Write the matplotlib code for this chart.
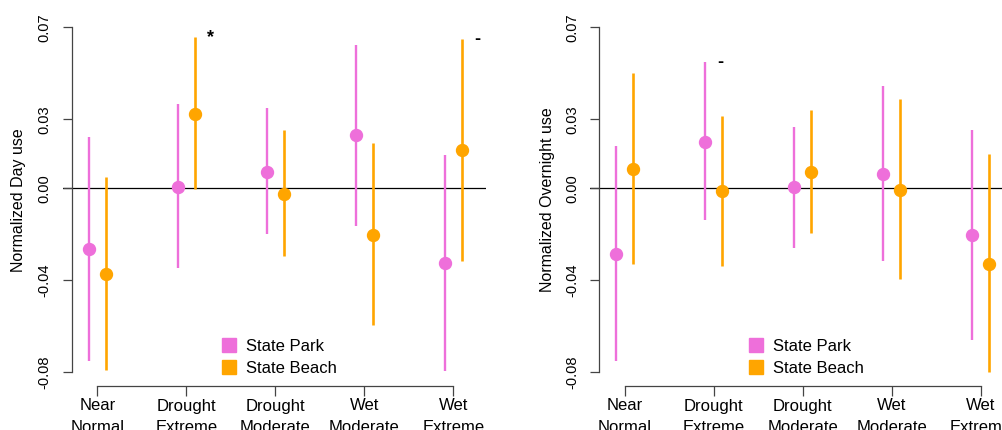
import numpy as np
import matplotlib.pyplot as plt
from matplotlib.lines import Line2D

plt.rcParams['font.family'] = ['Liberation Sans', 'DejaVu Sans']

# Categories (x axis)
categories = ["Near\nNormal", "Drought\nExtreme", "Drought\nModerate",
              "Wet\nModerate", "Wet\nExtreme"]

# Day use: estimate, lower, upper
day_park = [-0.0264, 0.0004, 0.0071, 0.0232, -0.0326]
day_park_lo = [-0.0751, -0.0345, -0.0199, -0.0162, -0.0793]
day_park_hi = [0.0224, 0.0365, 0.0350, 0.0623, 0.0146]

day_beach = [-0.0374, 0.0322, -0.0023, -0.0204, 0.0165]
day_beach_lo = [-0.0791, -0.0004, -0.0294, -0.0596, -0.0317]
day_beach_hi = [0.0050, 0.0657, 0.0255, 0.0198, 0.0648]

# Overnight use: estimate, lower, upper
night_park = [-0.0286, 0.0203, 0.0004, 0.0062, -0.0204]
night_park_lo = [-0.0751, -0.0138, -0.0261, -0.0315, -0.0660]
night_park_hi = [0.0184, 0.0548, 0.0268, 0.0443, 0.0255]

night_beach = [0.0084, -0.0012, 0.0070, -0.0006, -0.0328]
night_beach_lo = [-0.0329, -0.0338, -0.0196, -0.0394, -0.0800]
night_beach_hi = [0.0500, 0.0316, 0.0339, 0.0388, 0.0150]

# significance marks: (category index, series, symbol)
day_marks = [(1, "beach", "*"), (4, "beach", "-")]
night_marks = [(1, "park", "-")]

yticks = [-0.08, -0.04, 0.00, 0.03, 0.07]

pink = "#EE6FDA"
orange = "#FFA500"
axis_col = "#444444"

fig = plt.figure(figsize=(10.03, 4.30), dpi=100)

W, H = 1003, 430
ax_w = 423.3 / W
ax_h = 372 / H
ax_b = 1 - 386 / H

ax1 = fig.add_axes([62.7 / W, ax_b, ax_w, ax_h])
ax2 = fig.add_axes([590 / W, ax_b, ax_w, ax_h])

panels = [
    (ax1, "Normalized Day use", day_park, day_park_lo, day_park_hi,
     day_beach, day_beach_lo, day_beach_hi, day_marks, 19),
    (ax2, "Normalized Overnight use", night_park, night_park_lo, night_park_hi,
     night_beach, night_beach_lo, night_beach_hi, night_marks, 548),
]

x = np.arange(1, len(categories) + 1)
dx = 0.0975

for (ax, ylab, p, plo, phi, b, blo, bhi, marks, ylab_px) in panels:
    ax.axhline(0, color="black", lw=0.9, zorder=1)

    ax.vlines(x - dx, plo, phi, color=pink, lw=1.7, zorder=2)
    ax.plot(x - dx, p, "o", color=pink, ms=8.6, zorder=3)
    ax.vlines(x + dx, blo, bhi, color=orange, lw=1.9, zorder=2)
    ax.plot(x + dx, b, "o", color=orange, ms=8.6, zorder=3)

    for i, series, sym in marks:
        if series == "beach":
            xm, ym = x[i] + dx, bhi[i]
        else:
            xm, ym = x[i] - dx, phi[i]
        ax.text(xm + 0.17, ym, sym, ha="center", va="center",
                fontsize=13, fontweight="bold", color="black")

    ax.set_xlim(0.6112, 5.3674)
    ax.set_ylim(-0.08596, 0.07578)

    for s in ["top", "right"]:
        ax.spines[s].set_visible(False)
    ax.spines["left"].set_position(("data", 0.715))
    ax.spines["left"].set_bounds(-0.08, 0.07)
    ax.spines["bottom"].set_bounds(1, 5)
    for s in ["left", "bottom"]:
        ax.spines[s].set_color(axis_col)
        ax.spines[s].set_linewidth(0.9)

    ax.set_yticks(yticks)
    ax.set_yticklabels([f"{v:.2f}" for v in yticks], rotation=90, va="center")
    ax.set_xticks(x)
    ax.set_xticklabels(categories, linespacing=1.55)
    ax.tick_params(axis="y", length=6.5, width=0.9, color=axis_col,
                   labelsize=10.5, pad=8)
    ax.tick_params(axis="x", length=7, width=0.9, color=axis_col,
                   labelsize=12, pad=2)

    fig.text(ylab_px / W, 1 - 200 / H, ylab, rotation=90,
             ha="center", va="center", fontsize=11.5)

    handles = [
        Line2D([], [], marker="s", ls="", color=pink, ms=10),
        Line2D([], [], marker="s", ls="", color=orange, ms=10),
    ]
    ax.legend(handles, ["State Park", "State Beach"], loc="upper left",
              bbox_to_anchor=(0.3733, 0.127), frameon=False, fontsize=12,
              handlelength=1.0, handletextpad=0.5, borderpad=0,
              borderaxespad=0, labelspacing=0.45)

fig.savefig("out.png", dpi=100)
